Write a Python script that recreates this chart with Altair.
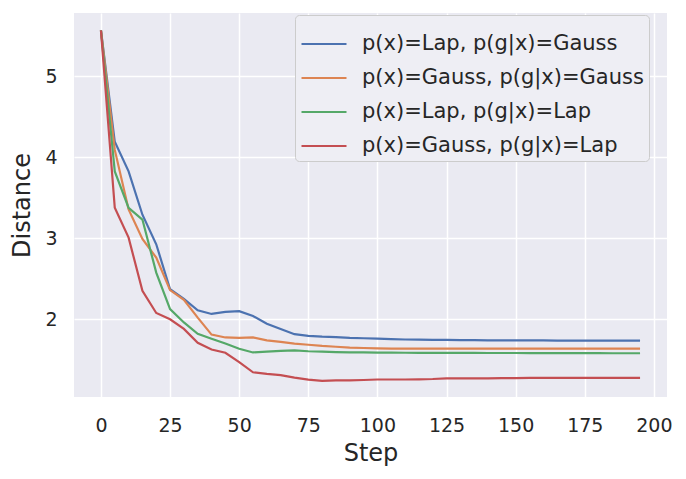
import altair as alt
import pandas as pd

steps = list(range(0, 200, 5))

series_names = [
    "p(x)=Lap, p(g|x)=Gauss",
    "p(x)=Gauss, p(g|x)=Gauss",
    "p(x)=Lap, p(g|x)=Lap",
    "p(x)=Gauss, p(g|x)=Lap",
]

lap_gauss = [5.565, 4.19, 3.825, 3.29, 2.925, 2.37, 2.25, 2.11, 2.065, 2.09,
             2.10, 2.04, 1.945, 1.88, 1.815, 1.795, 1.785, 1.78, 1.77, 1.765,
             1.76, 1.755, 1.75, 1.748, 1.745, 1.744, 1.742, 1.741, 1.74, 1.74,
             1.739, 1.738, 1.738, 1.737, 1.737, 1.736, 1.736, 1.735, 1.735, 1.735]
gauss_gauss = [5.565, 4.09, 3.355, 2.99, 2.76, 2.36, 2.24, 2.02, 1.81, 1.775,
               1.77, 1.775, 1.74, 1.72, 1.70, 1.685, 1.67, 1.66, 1.65, 1.645,
               1.64, 1.638, 1.637, 1.636, 1.636, 1.636, 1.636, 1.636, 1.636, 1.636,
               1.636, 1.636, 1.636, 1.636, 1.636, 1.636, 1.636, 1.636, 1.636, 1.636]
lap_lap = [5.565, 3.825, 3.375, 3.23, 2.575, 2.125, 1.96, 1.82, 1.76, 1.70,
           1.635, 1.59, 1.60, 1.61, 1.615, 1.605, 1.60, 1.595, 1.592, 1.59,
           1.588, 1.587, 1.586, 1.585, 1.585, 1.585, 1.584, 1.584, 1.583, 1.583,
           1.583, 1.582, 1.582, 1.582, 1.581, 1.581, 1.581, 1.58, 1.58, 1.58]
gauss_lap = [5.565, 3.375, 3.007, 2.35, 2.077, 2.0, 1.88, 1.71, 1.627, 1.586,
             1.47, 1.345, 1.325, 1.31, 1.28, 1.255, 1.24, 1.245, 1.245, 1.25,
             1.256, 1.256, 1.256, 1.258, 1.262, 1.27, 1.27, 1.27, 1.27, 1.272,
             1.273, 1.275, 1.275, 1.276, 1.276, 1.277, 1.277, 1.277, 1.277, 1.277]

colors = ["#4C72B0", "#DD8452", "#55A868", "#C44E52"]
x_ticks = [0, 25, 50, 75, 100, 125, 150, 175, 200]
y_ticks = [2, 3, 4, 5]

rows = []
for name, vals in zip(series_names, [lap_gauss, gauss_gauss, lap_lap, gauss_lap]):
    for s, v in zip(steps, vals):
        rows.append({"Step": s, "Distance": v, "series": name})
df = pd.DataFrame(rows)

FONT = "DejaVu Sans"
TXT = "#262626"

chart = alt.Chart(df).mark_line(strokeWidth=2.2, clip=True).encode(
    x=alt.X("Step:Q", scale=alt.Scale(domain=[-9.75, 204.75], nice=False, zero=False),
            axis=alt.Axis(values=x_ticks, title="Step", labelPadding=19, titlePadding=6)),
    y=alt.Y("Distance:Q", scale=alt.Scale(domain=[1.04, 5.78], nice=False, zero=False),
            axis=alt.Axis(values=y_ticks, title="Distance", labelPadding=17, titlePadding=10)),
    color=alt.Color("series:N", sort=series_names,
                    scale=alt.Scale(domain=series_names, range=colors),
                    legend=alt.Legend(title=None, orient="none", legendX=221, legendY=2,
                                      symbolType="stroke", symbolStrokeWidth=2.2,
                                      symbolSize=2025, labelFontSize=21, labelFont=FONT,
                                      labelColor=TXT, rowPadding=0, labelOffset=14,
                                      fillColor="#EEEEF4", strokeColor="#CCCCCC",
                                      padding=5, cornerRadius=4, labelLimit=400)),
).properties(
    width=593, height=384,
    padding={"left": 66, "top": 5, "right": 11, "bottom": 70},
    autosize=alt.AutoSizeParams(type="none"),
).configure_view(
    fill="#EAEAF2", stroke=None
).configure_axis(
    grid=True, gridColor="white", gridWidth=1.5, domain=False, ticks=False,
    labelFont=FONT, labelFontSize=19, labelColor=TXT,
    titleFont=FONT, titleFontSize=24, titleColor=TXT, titleFontWeight="normal",
)

chart.save("out.html", embed_options={"renderer": "svg", "actions": False})
